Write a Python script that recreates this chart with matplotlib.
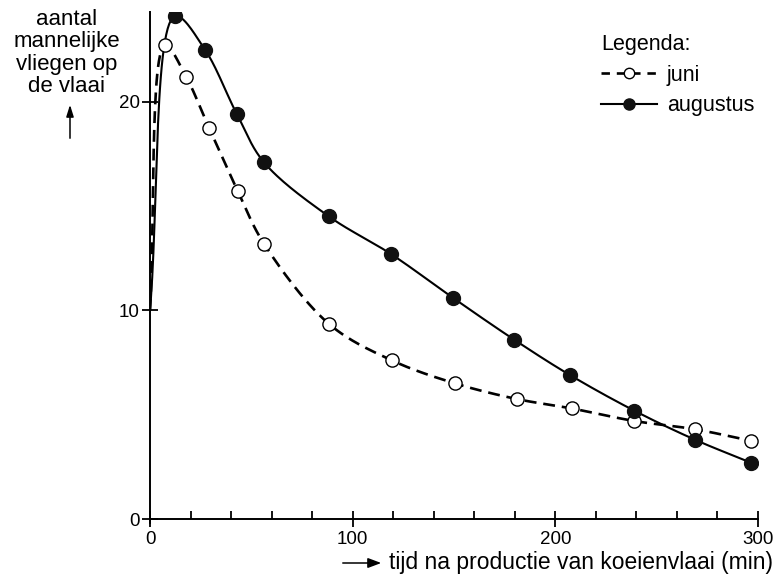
import matplotlib

matplotlib.use("Agg")
import matplotlib.pyplot as plt
from matplotlib.lines import Line2D
import numpy as np

# values
tijd_juni = [7.4, 17.8, 29.1, 43.4, 56.2, 88.3, 119.4, 150.5, 181.0, 208.0, 238.8, 268.9, 296.5]
vliegen_juni = [22.7, 21.2, 18.75, 15.7, 13.2, 9.35, 7.6, 6.5, 5.75, 5.3, 4.7, 4.3, 3.75]

tijd_aug = [12.3, 27.1, 42.9, 56.2, 88.3, 118.9, 149.5, 179.6, 207.2, 238.8, 268.9, 296.5]
vliegen_aug = [24.1, 22.5, 19.4, 17.1, 14.5, 12.7, 10.6, 8.6, 6.9, 5.2, 3.8, 2.7]

# both curves start at the axis at t = 0
start_tijd = 0.0
start_vliegen = 10.0

FONT = ["Liberation Sans", "DejaVu Sans"]


def smooth_curve(xs, ys, sx=2.03, sy=20.85, n=30):
    # centripetal Catmull-Rom through the points, in screen-like units
    p = np.column_stack([np.asarray(xs) * sx, np.asarray(ys) * sy])
    p = np.vstack([2 * p[0] - p[1], p, 2 * p[-1] - p[-2]])
    out = []
    for i in range(1, len(p) - 2):
        p0, p1, p2, p3 = p[i - 1], p[i], p[i + 1], p[i + 2]
        t0 = 0.0
        t1 = t0 + np.linalg.norm(p1 - p0) ** 0.5
        t2 = t1 + np.linalg.norm(p2 - p1) ** 0.5
        t3 = t2 + np.linalg.norm(p3 - p2) ** 0.5
        t = np.linspace(t1, t2, n)[:, None]
        a1 = (t1 - t) / (t1 - t0) * p0 + (t - t0) / (t1 - t0) * p1
        a2 = (t2 - t) / (t2 - t1) * p1 + (t - t1) / (t2 - t1) * p2
        a3 = (t3 - t) / (t3 - t2) * p2 + (t - t2) / (t3 - t2) * p3
        b1 = (t2 - t) / (t2 - t0) * a1 + (t - t0) / (t2 - t0) * a2
        b2 = (t3 - t) / (t3 - t1) * a2 + (t - t1) / (t3 - t1) * a3
        c = (t2 - t) / (t2 - t1) * b1 + (t - t1) / (t2 - t1) * b2
        out.append(c if i == 1 else c[1:])
    c = np.vstack(out)
    return c[:, 0] / sx, c[:, 1] / sy


fig = plt.figure(figsize=(7.78, 5.77), dpi=100)
ax = fig.add_axes([150 / 778, 1 - 519 / 577, 608 / 778, 507 / 577])

jx, jy = smooth_curve([start_tijd] + tijd_juni, [start_vliegen] + vliegen_juni)
ax.plot(jx, jy, color="black", linewidth=1.9, dashes=(4.5, 2.6), zorder=2)
ax.plot(tijd_juni, vliegen_juni, linestyle="none", marker="o", markersize=9.5,
        markerfacecolor="white", markeredgecolor="black", markeredgewidth=1.0, zorder=3)

ax_x, ax_y = smooth_curve([start_tijd] + tijd_aug, [start_vliegen] + vliegen_aug)
ax.plot(ax_x, ax_y, color="black", linewidth=1.5, zorder=2)
ax.plot(tijd_aug, vliegen_aug, linestyle="none", marker="o", markersize=10,
        markerfacecolor="#111111", markeredgecolor="#111111", zorder=3)

ax.set_xlim(0, 300)
ax.set_ylim(0, 24.3)
for side in ["top", "right"]:
    ax.spines[side].set_visible(False)
for side in ["left", "bottom"]:
    ax.spines[side].set_linewidth(1.4)
ax.spines["left"].set_bounds(-0.2, 24.3)

ax.set_xticks([0, 100, 200, 300])
ax.set_xticks(np.arange(0, 301, 20), minor=True)
ax.set_yticks([0, 10, 20])
ax.tick_params(axis="both", which="major", direction="inout", length=11, width=1.3, pad=3)
ax.tick_params(axis="x", which="minor", direction="in", length=6, width=1.3)
ax.tick_params(axis="y", which="major", pad=2)
for lab in ax.get_xticklabels() + ax.get_yticklabels():
    lab.set_family(FONT)
    lab.set_fontsize(13.5)
ax.spines["left"].set_clip_on(False)

fig.text(67 / 778, 1 - 9 / 577, "aantal\nmannelijke\nvliegen op\nde vlaai", ha="center", va="top",
         fontsize=16, family=FONT, linespacing=1.08)
fig.add_artist(matplotlib.patches.FancyArrowPatch(
    (70 / 778, 1 - 141 / 577), (70 / 778, 1 - 102 / 577), transform=fig.transFigure,
    arrowstyle="-|>,head_length=7,head_width=2.2", color="black", linewidth=1.1, mutation_scale=1))

fig.text(389 / 778, 1 - 563 / 577, "tijd na productie van koeienvlaai (min)", ha="left", va="center",
         fontsize=16.5, family=FONT)
fig.add_artist(matplotlib.patches.FancyArrowPatch(
    (340 / 778, 1 - 563 / 577), (384 / 778, 1 - 563 / 577), transform=fig.transFigure,
    arrowstyle="-|>,head_length=8,head_width=3", color="black", linewidth=1.1, mutation_scale=1))

handles = [
    Line2D([0], [0], color="black", linewidth=1.9, dashes=(3.2, 2.6), marker="o", markersize=7.5,
           markerfacecolor="white", markeredgecolor="black", markeredgewidth=1.0, label="juni"),
    Line2D([0], [0], color="black", linewidth=1.5, marker="o", markersize=8,
           markerfacecolor="#111111", markeredgecolor="#111111", label="augustus"),
]
leg = fig.legend(handles=handles, title="Legenda:", loc="upper left",
                 bbox_to_anchor=(601 / 778, 1 - 34 / 577), bbox_transform=fig.transFigure,
                 frameon=False, borderpad=0, borderaxespad=0, handlelength=2.6, handletextpad=0.45,
                 labelspacing=0.45, alignment="left", prop={"family": FONT, "size": 15.5},
                 title_fontproperties={"family": FONT, "size": 15.5})

fig.savefig("out.png", dpi=100)
